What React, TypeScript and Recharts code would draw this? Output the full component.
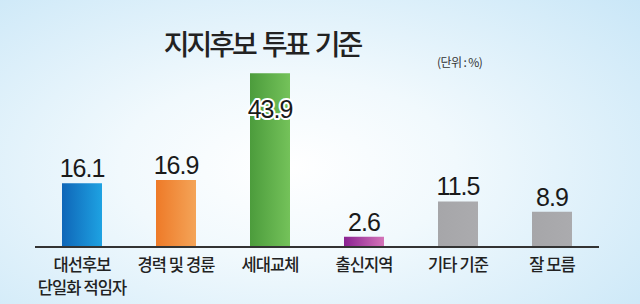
import { BarChart, Bar, XAxis, YAxis, Cell, LabelList } from "recharts"

const categories = ["대선후보\n단일화 적임자", "경력 및 경륜", "세대교체", "출신지역", "기타 기준", "잘 모름"]
const shares = [16.1, 16.9, 43.9, 2.6, 11.5, 8.9]
const fills = ["url(#gBlue)", "url(#gOrange)", "url(#gGreen)", "url(#gPurple)", "url(#gGray)", "url(#gGray)"]

const data = categories.map((name, i) => ({ name, value: shares[i] }))

const PLOT_BOTTOM = 247
const KO_FONT = "'Noto Sans CJK KR', 'Noto Sans', sans-serif"
const NUM_FONT = "'Liberation Sans', Arial, sans-serif"

function CategoryTick({ x, payload }: any) {
  const lines = String(payload.value).split("\n")
  return (
    <text
      x={x}
      y={PLOT_BOTTOM + 24}
      textAnchor="middle"
      fontFamily={KO_FONT}
      fontSize={16.5}
      fontWeight={500}
      fill="#222"
      letterSpacing={-0.9}
    >
      {lines.map((line, i) => (
        <tspan key={i} x={x} dy={i === 0 ? 0 : 23}>{line}</tspan>
      ))}
    </text>
  )
}

function ValueLabel({ x, y, width, value }: any) {
  const cx = x + width / 2
  const inside = value > 40
  return (
    <text
      x={cx}
      y={inside ? y + 45 : y - 6}
      textAnchor="middle"
      fontFamily={NUM_FONT}
      fontSize={25}
      letterSpacing={-1}
      fill="#1a1a1a"
      stroke={inside ? "#fff" : "none"}
      strokeWidth={inside ? 4 : 0}
      strokeLinejoin="round"
      style={{ paintOrder: "stroke" }}
    >
      {value}
    </text>
  )
}

export default function App() {
  return (
    <div
      style={{
        position: "absolute",
        left: 0,
        top: 0,
        width: 640,
        height: 304,
        overflow: "hidden",
        background: "radial-gradient(ellipse 75% 85% at 45% 55%, #ffffff 0%, #f1f9fd 35%, #c8e6f7 100%)",
      }}
    >
      <div
        style={{
          position: "absolute",
          left: 162,
          width: 200,
          top: 27,
          textAlign: "center",
          fontFamily: KO_FONT,
          fontSize: 28,
          fontWeight: 500,
          lineHeight: 1.2,
          letterSpacing: -3,
          wordSpacing: 4,
          color: "#222",
          whiteSpace: "nowrap",
        }}
      >
        지지후보 투표 기준
      </div>
      <div
        style={{
          position: "absolute",
          left: 437,
          top: 55,
          fontFamily: KO_FONT,
          fontSize: 12,
          lineHeight: 1.2,
          letterSpacing: -0.6,
          color: "#333",
          whiteSpace: "pre",
        }}
      >
        (단위 : %)
      </div>
      <BarChart
        width={640}
        height={304}
        data={data}
        margin={{ top: 49, right: 41, left: 35, bottom: 0 }}
        style={{ position: "absolute", left: 0, top: 0 }}
      >
        <defs>
          <linearGradient id="gBlue" x1="0" y1="0" x2="1" y2="0">
            <stop offset="0%" stopColor="#0f66b8" />
            <stop offset="100%" stopColor="#1ea2e2" />
          </linearGradient>
          <linearGradient id="gOrange" x1="0" y1="0" x2="1" y2="0">
            <stop offset="0%" stopColor="#ee7a28" />
            <stop offset="100%" stopColor="#f4a458" />
          </linearGradient>
          <linearGradient id="gGreen" x1="0" y1="0" x2="1" y2="0">
            <stop offset="0%" stopColor="#4c9c3c" />
            <stop offset="100%" stopColor="#74c25a" />
          </linearGradient>
          <linearGradient id="gPurple" x1="0" y1="0" x2="1" y2="0">
            <stop offset="0%" stopColor="#8a2292" />
            <stop offset="100%" stopColor="#d474b8" />
          </linearGradient>
          <linearGradient id="gGray" x1="0" y1="0" x2="1" y2="0">
            <stop offset="0%" stopColor="#a6a6a9" />
            <stop offset="100%" stopColor="#ababae" />
          </linearGradient>
        </defs>
        <XAxis
          dataKey="name"
          height={57}
          tickLine={false}
          axisLine={{ stroke: "#333", strokeWidth: 2 }}
          tick={<CategoryTick />}
          interval={0}
        />
        <YAxis hide domain={[0, 50]} />
        <Bar dataKey="value" barSize={40} isAnimationActive={false}>
          {data.map((_, i) => (
            <Cell key={`cell-${i}`} fill={fills[i]} />
          ))}
          <LabelList dataKey="value" content={<ValueLabel />} />
        </Bar>
      </BarChart>
    </div>
  )
}
